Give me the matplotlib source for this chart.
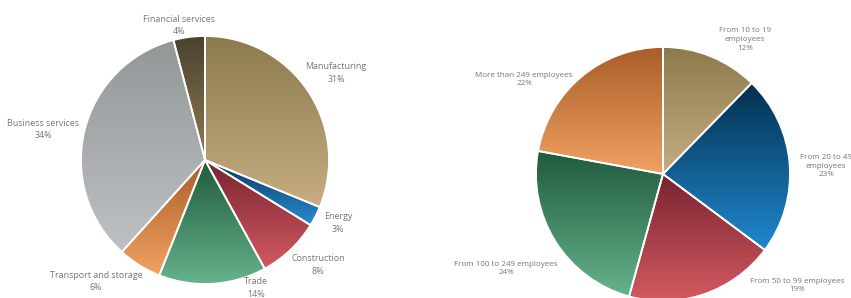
import numpy as np
import matplotlib
matplotlib.use('Agg')
import matplotlib.pyplot as plt
from matplotlib.colors import LinearSegmentedColormap

# Left pie: enterprises by sector
sectors = ['Manufacturing', 'Energy', 'Construction', 'Trade',
           'Transport and storage', 'Business services', 'Financial services']
sector_share = [31.2, 2.6, 8.2, 14.0, 5.7, 34.2, 4.1]
sector_colors = [('#8c7a4d', '#c6ad82'), ('#07375c', '#2a8dd4'), ('#782330', '#d35a61'),
                 ('#205a3d', '#65b38c'), ('#a95e27', '#f1a163'), ('#929798', '#bec1c3'),
                 ('#4a4230', '#8f7c50')]
sector_label_xy = [(336, 225), (338, 75), (318, 33), (256, 10),
                   (96, 16.5), (43, 168.5), (179, 272.5)]

# Right pie: enterprises by size class
sizes = ['From 10 to 19\nemployees', 'From 20 to 49\nemployees', 'From 50 to 99 employees',
         'From 100 to 249 employees', 'More than 249 employees']
size_share = [12.3, 22.9, 19.1, 23.6, 22.1]
size_colors = [('#8c7a4d', '#c6ad82'), ('#03304f', '#2088cf'), ('#782330', '#d35a61'),
               ('#205a3d', '#65b38c'), ('#a95e27', '#f1a163')]
size_label_xy = [(745, 258.5), (826, 132), (797, 12.5), (506, 29.5), (524, 218.5)]

W, H = 851, 298


def gradient_pie(ax, values, colors, center, radius):
    wedges, _ = ax.pie(values, center=center, radius=radius, startangle=90,
                       counterclock=False,
                       wedgeprops=dict(edgecolor='white', linewidth=1.3, facecolor='none'))
    grad = np.linspace(0, 1, 256).reshape(-1, 1)
    for w, (top, bottom) in zip(wedges, colors):
        bb = w.get_path().get_extents(w.get_patch_transform())
        cmap = LinearSegmentedColormap.from_list('g', [top, bottom])
        im = ax.imshow(grad, cmap=cmap, extent=[bb.x0, bb.x1, bb.y0, bb.y1],
                       origin='upper', aspect='auto', zorder=0.5)
        im.set_clip_path(w)
        w.set_zorder(1)
    return wedges


def add_labels(ax, names, values, positions, size, spacing):
    for name, v, (x, y) in zip(names, values, positions):
        ax.text(x, y, f'{name}\n{int(round(v))}%', ha='center', va='center',
                fontsize=size, color='#767676', linespacing=spacing, family='Open Sans')


def main():
    fig = plt.figure(figsize=(W / 100, H / 100), dpi=100)
    ax = fig.add_axes([0, 0, 1, 1])

    gradient_pie(ax, sector_share, sector_colors, (205, 138), 124)
    gradient_pie(ax, size_share, size_colors, (663, 124), 127)
    add_labels(ax, sectors, sector_share, sector_label_xy, 6.4, 1.45)
    add_labels(ax, sizes, size_share, size_label_xy, 5.8, 1.35)

    ax.set_xlim(0, W)
    ax.set_ylim(0, H)
    ax.set_aspect('equal')
    ax.axis('off')
    fig.savefig('out.png', dpi=100, facecolor='white')


if __name__ == '__main__':
    main()
